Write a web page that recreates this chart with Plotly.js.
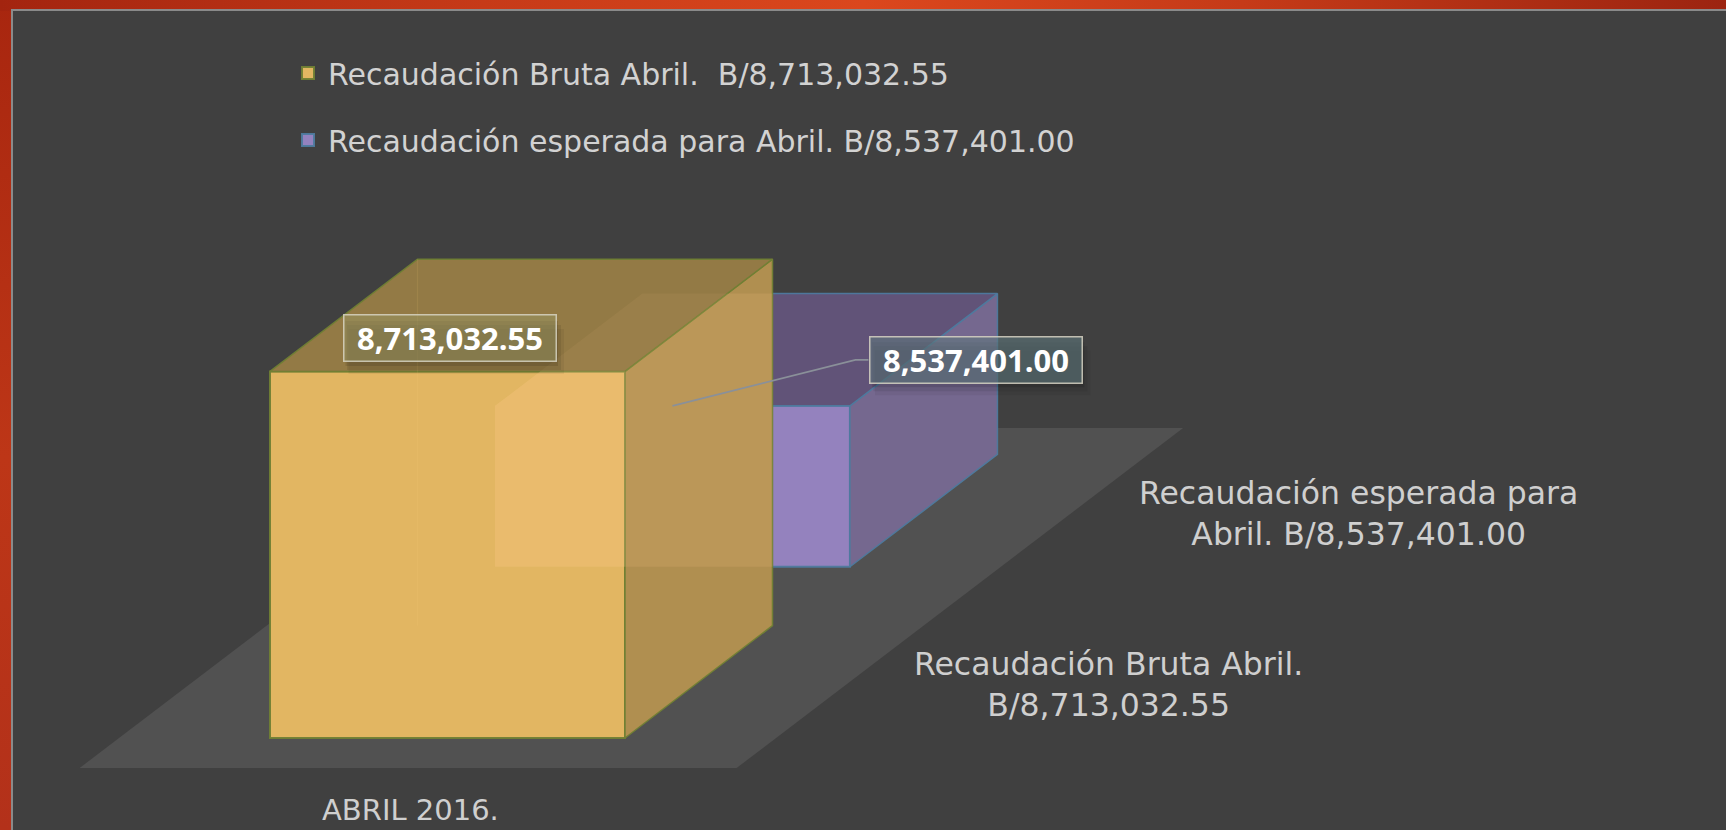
<!DOCTYPE html>
<html>
<head>
<meta charset="utf-8">
<script src="https://cdn.plot.ly/plotly-3.0.1.min.js"></script>
<style>
  html, body { margin:0; padding:0; }
  body { width:1726px; height:830px; overflow:hidden; position:relative;
         background: linear-gradient(180deg, #a8260f 0%, #bd3617 55%, #b3311a 100%); }
  #topstrip { position:absolute; left:0; top:0; width:1726px; height:11px;
         background: linear-gradient(90deg, #a3240f 0%, #c63a18 28%, #db471d 50%, #c53a18 72%, #9c2410 100%); }
  #panel { position:absolute; left:11px; top:9px; width:1713px; height:819px;
         background:#404040; border-left:2px solid #8a8a8a; border-top:2px solid #8a8a8a; }
  #chart { position:absolute; left:0; top:0; width:1726px; height:830px; }
</style>
</head>
<body>
<div id="topstrip"></div>
<div id="panel"></div>
<div id="chart"></div>
<script>
// ---------------- data ----------------
const categories = ['ABRIL 2016.'];
const seriesNames = ['Recaudación Bruta Abril.\u00a0 B/8,713,032.55',
                     'Recaudación esperada para Abril. B/8,537,401.00'];
const depthAxisLabels = ['Recaudación Bruta Abril.<br>B/8,713,032.55',
                         'Recaudación esperada para<br>Abril. B/8,537,401.00'];
const values = [8713032.55, 8537401.00];
const axisMin = 8400000;

// ---------------- layout / projection constants ----------------
const W = 1726, H = 830;
const PX_PER_UNIT = 1171 / 1e6;   // vertical pixels per currency unit
const BASE_PX = 738;              // pixel row of the axis minimum at the front of the first row
const CAT_CX = 447.5;             // category centre (x pixels)
const BAR_W = 355;                // bar width (x pixels)
const DX = 147.5, DY_PX = 112.3;  // oblique depth vector per depth unit (pixels)
const ROW_GAP = 1.525;            // depth position step between series rows
const FLOOR_W = 657, FLOOR_Z0 = -0.267, FLOOR_Z1 = 2.76;
const DYV = DY_PX / PX_PER_UNIT;  // depth vector in value units
const vTop = axisMin + BASE_PX / PX_PER_UNIT;
const vBot = axisMin - (H - BASE_PX) / PX_PER_UNIT;
const pxToV = p => p / PX_PER_UNIT;
const LIGHT_FONT = 'DejaVu Sans, sans-serif';

const P = (x, v, z) => [x + z * DX, v + z * DYV];

const faceColors = [
  {front:'#e2b662', top:'#937a45', side:'#b08f50', edge:'rgba(112,128,52,0.95)'},
  {front:'#9482be', top:'#615378', side:'#75688f', edge:'rgba(78,122,158,0.95)'}
];

function clipPoly(subject, clip) {
  let area = 0;
  for (let i = 0; i < clip.length; i++) { const a = clip[i], b = clip[(i+1)%clip.length]; area += a[0]*b[1] - b[0]*a[1]; }
  const sgn = Math.sign(area);
  let out = subject;
  for (let i = 0; i < clip.length && out.length; i++) {
    const A = clip[i], B = clip[(i+1)%clip.length];
    const cr = p => (B[0]-A[0])*(p[1]-A[1]) - (B[1]-A[1])*(p[0]-A[0]);
    const inside = p => sgn * cr(p) >= 0;
    const inter = (p, q) => { const d1 = cr(p), d2 = cr(q), t = d1/(d1-d2); return [p[0]+t*(q[0]-p[0]), p[1]+t*(q[1]-p[1])]; };
    const inp = out; out = [];
    for (let j = 0; j < inp.length; j++) {
      const p = inp[j], q = inp[(j+1)%inp.length];
      const pi = inside(p), qi = inside(q);
      if (pi) { out.push(p); if (!qi) out.push(inter(p, q)); }
      else if (qi) out.push(inter(p, q));
    }
  }
  return out;
}

function poly(pts, fill, line, lw, ax) {
  const xs = pts.map(p => p[0]), ys = pts.map(p => p[1]);
  xs.push(xs[0]); ys.push(ys[0]);
  return {type:'scatter', mode:'lines', x:xs, y:ys, fill:'toself', fillcolor:fill,
          line:{color:line || 'rgba(0,0,0,0)', width:lw || 0}, hoverinfo:'skip', showlegend:false,
          xaxis:ax[0], yaxis:ax[1]};
}

function boxGeom(s) {
  const x0 = CAT_CX - BAR_W/2, x1 = CAT_CX + BAR_W/2;
  const z0 = s * ROW_GAP, z1 = z0 + 1, v0 = axisMin, v1 = values[s];
  return {
    x0, x1, z0, z1, v0, v1,
    front: [P(x0,v0,z0), P(x1,v0,z0), P(x1,v1,z0), P(x0,v1,z0)],
    top:   [P(x0,v1,z0), P(x1,v1,z0), P(x1,v1,z1), P(x0,v1,z1)],
    side:  [P(x1,v0,z0), P(x1,v0,z1), P(x1,v1,z1), P(x1,v1,z0)],
    hull:  [P(x0,v0,z0), P(x1,v0,z0), P(x1,v0,z1), P(x1,v1,z1), P(x0,v1,z1), P(x0,v1,z0)]
  };
}

const traces = [];
const axesFor = [['x2','y2'], ['x','y']];  // series 0 drawn on overlaying (front) subplot
// draw back series first
for (let s = values.length - 1; s >= 0; s--) {
  const g = boxGeom(s), c = faceColors[s], ax = axesFor[s];
  traces.push({
    type:'bar', name:seriesNames[s], legendgroup:'g'+s, legendrank:s+1,
    x:[CAT_CX + g.z0*DX], y:[g.v1 - g.v0], base:[g.v0 + g.z0*DYV], width:[BAR_W],
    marker:{color:c.front, line:{color:c.edge, width:2}},
    hoverinfo:'skip', xaxis:ax[0], yaxis:ax[1]
  });
  traces.push(poly(g.side, c.side, c.edge, 1.5, ax));
  traces.push(poly(g.top, c.top, c.edge, 1.5, ax));
  if (s === 0) {
    // translucency of the front box: light where the rear box is behind it
    const rear = boxGeom(1).hull;
    const hl = [[g.front, 'rgba(255,205,140,0.27)'], [g.side, 'rgba(255,205,140,0.14)'], [g.top, 'rgba(255,205,140,0.07)']];
    hl.forEach(([f, col]) => { const cp = clipPoly(rear, f); if (cp.length > 2) traces.push(poly(cp, col, null, 0, ax)); });
    // hidden back-left edge seen faintly through the box
    const a = P(g.x0, g.v0, g.z1), b = P(g.x0, g.v1, g.z1);
    traces.push({type:'scatter', mode:'lines', x:[a[0], b[0]], y:[a[1], b[1]],
      line:{color:'rgba(255,215,130,0.10)', width:1.2}, hoverinfo:'skip', showlegend:false, xaxis:ax[0], yaxis:ax[1]});
  }
}

// floor (as a shape beneath all traces)
const fx0 = CAT_CX - FLOOR_W/2, fx1 = CAT_CX + FLOOR_W/2;
const floorPts = [P(fx0,axisMin,FLOOR_Z0), P(fx1,axisMin,FLOOR_Z0), P(fx1,axisMin,FLOOR_Z1), P(fx0,axisMin,FLOOR_Z1)];
const floorPath = 'M' + floorPts.map(p => p[0] + ',' + p[1]).join('L') + 'Z';

const fmt = v => v.toLocaleString('en-US', {minimumFractionDigits:2, maximumFractionDigits:2});
const annotations = [];
const shapes = [{type:'path', path:floorPath, xref:'x', yref:'y', fillcolor:'#515151', line:{width:0}, layer:'below'}];

// data labels
const LBL_W = 211, LBL_H = 45;
const labelOffsets = [[2, 33], [303.5, 46]];   // px offset of label centre from anchor
const labelBg = ['rgba(152,150,100,0.5)', 'rgba(95,120,125,0.6)'];
values.forEach((v, s) => {
  const g = boxGeom(s);
  const A = P(CAT_CX, v, g.z0);
  const cx = A[0] + labelOffsets[s][0], cy = A[1] + pxToV(labelOffsets[s][1]);
  // soft shadow
  [[3,5,0.10],[6,9,0.08],[9,13,0.05]].forEach(([ox, oy, al]) => {
    shapes.push({type:'rect', xref:'x', yref:'y', layer:'above', line:{width:0}, fillcolor:'rgba(0,0,0,'+al+')',
      x0: cx - LBL_W/2 + ox*0.5, x1: cx + LBL_W/2 + ox, y0: cy - pxToV(LBL_H/2 + oy), y1: cy + pxToV(LBL_H/2 - oy)});
  });
  if (s === 1) {
    // leader line, drawn on the front subplot so it stays above the boxes
    const left = cx - LBL_W/2 - 2;
    traces.push({type:'scatter', mode:'lines', x:[A[0], left - 13, left], y:[A[1], cy, cy],
      line:{color:'#8a9099', width:1.6}, hoverinfo:'skip', showlegend:false, xaxis:'x2', yaxis:'y2'});
  }
  annotations.push({xref:'x', yref:'y', x:cx, y:cy, text:'<b>' + fmt(v) + '</b>', showarrow:false,
    xanchor:'center', yanchor:'middle', width:LBL_W, height:LBL_H, borderpad:0,
    bgcolor:labelBg[s], bordercolor:'rgba(215,212,195,0.85)', borderwidth:1.5,
    font:{family:'Open Sans, sans-serif', size:31, color:'#ffffff'}});
  // depth axis labels
  const E = P(fx1, axisMin, g.z0 + 0.5);
  annotations.push({xref:'x', yref:'y', x:E[0], y:E[1], xshift:62, yshift:-3, xanchor:'left', yanchor:'middle', align:'center',
    text:depthAxisLabels[s], showarrow:false, font:{family:LIGHT_FONT, size:31.5, color:'#cfcfcf'}});
});
// category label
categories.forEach((c, i) => {
  const F = P(CAT_CX, axisMin, FLOOR_Z0);
  annotations.push({xref:'x', yref:'y', x:F[0] + 2, y:F[1], yshift:-42, xanchor:'center', yanchor:'middle',
    text:c, showarrow:false, font:{family:LIGHT_FONT, size:29, color:'#cfcfcf'}});
});

const hidden = {visible:false, fixedrange:true, showgrid:false, zeroline:false};
const layout = {
  width:W, height:H, margin:{l:0, r:0, t:0, b:0},
  paper_bgcolor:'rgba(0,0,0,0)', plot_bgcolor:'rgba(0,0,0,0)',
  barmode:'overlay', hovermode:false,
  xaxis:Object.assign({range:[0, W]}, hidden),
  yaxis:Object.assign({range:[vBot, vTop]}, hidden),
  xaxis2:Object.assign({range:[0, W], overlaying:'x'}, hidden),
  yaxis2:Object.assign({range:[vBot, vTop], overlaying:'y'}, hidden),
  showlegend:true,
  legend:{x:288/W, y:1 - 47/H, xanchor:'left', yanchor:'top', traceorder:'grouped', tracegroupgap:25,
          bgcolor:'rgba(0,0,0,0)', font:{family:LIGHT_FONT, size:30, color:'#d2d2d2'}},
  shapes, annotations
};
Plotly.newPlot('chart', traces, layout, {displayModeBar:false, staticPlot:true});
</script>
</body>
</html>
